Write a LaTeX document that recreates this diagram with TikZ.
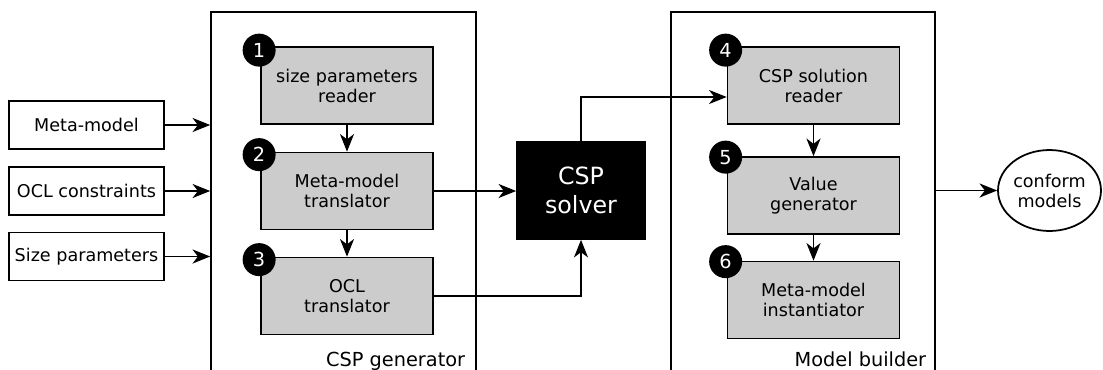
\documentclass[tikz,border=0pt]{standalone}
\usepackage{fontspec}
\setmainfont{DejaVu Sans}
\usetikzlibrary{arrows.meta,shapes.geometric,calc}
\definecolor{stagegray}{HTML}{CCCCCC}
\begin{document}
\begin{tikzpicture}[x=0.02cm,y=-0.02cm,line width=1pt,
    >={Stealth[length=10pt,width=8pt,inset=3pt]},
    input/.style={draw,minimum width=3.1cm,minimum height=0.96cm,font=\fontsize{10}{12}\selectfont},
    unit/.style={draw,minimum height=7.3cm,anchor=north},
    unitlabel/.style={anchor=base east,inner sep=0pt,font=\fontsize{11}{13}\selectfont},
    stage/.style={draw,fill=stagegray,minimum width=3.44cm,minimum height=1.54cm,align=center,font=\fontsize{10}{11.4}\selectfont},
    num/.style={circle,fill=black,text=white,inner sep=0pt,minimum size=0.66cm,font=\fontsize{11}{11}\selectfont}]
  \useasboundingbox (0,0) rectangle (1103,369);
  % inputs
  \node[input] (mm) at (86.5,125) {Meta-model};
  \node[input] (ocl) at (86.5,191) {OCL constraints};
  \node[input] (sp) at (86.5,256.5) {Size parameters};
  % CSP generator
  \node[unit,minimum width=5.3cm] (gen) at (343.5,11) {};
  \node[unitlabel] (lgen) at (466,366) {CSP generator};
  \node[stage] (rd) at (347,85.5) {size parameters\\reader};
  \node[stage] (mt) at (347,191) {Meta-model\\translator};
  \node[stage] (ot) at (347,296) {OCL\\translator};
  \node[num] (n1) at ($(rd.north west)+(-1,4)$) {1};
  \node[num] (n2) at ($(mt.north west)+(-1,3)$) {2};
  \node[num] (n3) at ($(ot.north west)+(-1,3)$) {3};
  % CSP solver
  \node[draw,fill=black,text=white,minimum width=2.56cm,minimum height=1.94cm,align=center,
    font=\fontsize{13.5}{16.5}\selectfont] (solver) at (581,190.5) {CSP\\solver};
  % Model builder
  \node[unit,minimum width=5.28cm] (bld) at (803,11) {};
  \node[unitlabel] (lbld) at (927,366) {Model builder};
  \node[stage] (sr) at (813.5,85.5) {CSP solution\\reader};
  \node[stage] (vg) at (813.5,195.5) {Value\\generator};
  \node[stage] (mi) at (813.5,300) {Meta-model\\instantiator};
  \node[num] (n4) at ($(sr.north west)+(-1,4)$) {4};
  \node[num] (n5) at ($(vg.north west)+(-1,1)$) {5};
  \node[num] (n6) at ($(mi.north west)+(-1,1)$) {6};
  % output
  \node[ellipse,draw,minimum width=2.06cm,minimum height=1.62cm,align=center,inner sep=0pt,
    font=\fontsize{10}{11.4}\selectfont] (out) at (1049.5,190.5) {conform\\models};
  % inputs into generator
  \draw[->] (mm) -- (mm -| gen.west);
  \draw[->] (ocl) -- (ocl -| gen.west);
  \draw[->] (sp) -- (sp -| gen.west);
  % generator chain
  \draw[->] (rd) -- (mt);
  \draw[->] (mt) -- (ot);
  \draw[->] (mt.east) -- (mt.east -| solver.west);
  \draw[->] (ot.east) -| (solver.south);
  % solver to builder
  \draw[->] (solver.north) |- ([yshift=-0.23cm]sr.west);
  \draw[->] (sr) -- (vg);
  \draw[->] (vg) -- (mi);
  \draw[->] (bld.east |- out.west) -- (out.west);
\end{tikzpicture}
\end{document}
